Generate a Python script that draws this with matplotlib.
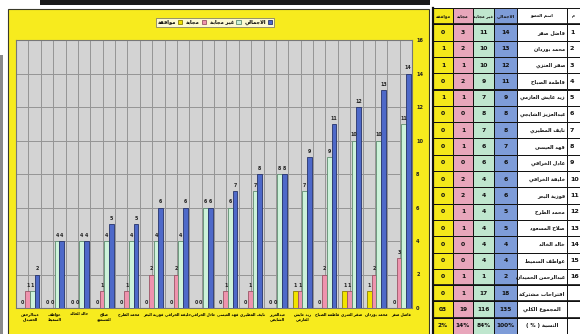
import matplotlib
matplotlib.use("Agg")
import matplotlib.pyplot as plt
from matplotlib.patches import Rectangle
import numpy as np

# ---------------- data ----------------
names = ["فاضل صفر", "محمد بوردان", "صقر العنزي", "فاطمة الصباح", "زيد عايش العازمي",
         "عبدالعزيز الشايجي", "نايف المطيري", "فهد العيسى", "عادل الخرافي", "خليفة الخرافي",
         "فوزية البحر", "محمد الطرح", "صلاح المسعود", "خالد الخالد", "عواطف السميط",
         "عبدالرحمن الحميدان"]
chart_names = ["فاضل صفر", "محمد بوردان", "صقر العنزي", "فاطمة الصباح", "زيد عايش\nالعازمي",
               "عبدالعزيز\nالشايجي", "نايف المطيري", "فهد العيسى", "عادل الخرافي", "خليفة الخرافي",
               "فوزية البحر", "محمد الطرح", "صلاح\nالمسعود", "خالد الخالد", "عواطف\nالسميط",
               "عبدالرحمن\nالحميدان"]
total = [14, 13, 12, 11, 9, 8, 8, 7, 6, 6, 6, 5, 5, 4, 4, 2]
not_answered = [11, 10, 10, 9, 7, 8, 7, 6, 6, 4, 4, 4, 4, 4, 4, 1]
answered = [3, 2, 1, 2, 1, 0, 1, 1, 0, 2, 2, 1, 1, 0, 0, 1]
approved = [0, 1, 1, 0, 1, 0, 0, 0, 0, 0, 0, 0, 0, 0, 0, 0]
series_labels = ["موافقة", "مجابة", "غير مجابة", "الاجمالي"]
extra_rows = ["اقتراحات مشتركة", "المجموع الكلي", "النسبة ( % )"]
extra_vals = [["0", "1", "17", "18"], ["03", "19", "116", "135"], ["2%", "14%", "84%", "100%"]]
table_header = ["موافقة", "مجابة", "غير مجابة", "الاجمالي", "اسم العضو", "م"]
yticks = [0, 2, 4, 6, 8, 10, 12, 14, 16]

# ---------------- simple Arabic shaping ----------------
FORMS = {
    'ء': (0xFE80, None, None, None), 'آ': (0xFE81, 0xFE82, None, None),
    'أ': (0xFE83, 0xFE84, None, None), 'ؤ': (0xFE85, 0xFE86, None, None),
    'إ': (0xFE87, 0xFE88, None, None), 'ئ': (0xFE89, 0xFE8A, 0xFE8B, 0xFE8C),
    'ا': (0xFE8D, 0xFE8E, None, None), 'ب': (0xFE8F, 0xFE90, 0xFE91, 0xFE92),
    'ة': (0xFE93, 0xFE94, None, None), 'ت': (0xFE95, 0xFE96, 0xFE97, 0xFE98),
    'ث': (0xFE99, 0xFE9A, 0xFE9B, 0xFE9C), 'ج': (0xFE9D, 0xFE9E, 0xFE9F, 0xFEA0),
    'ح': (0xFEA1, 0xFEA2, 0xFEA3, 0xFEA4), 'خ': (0xFEA5, 0xFEA6, 0xFEA7, 0xFEA8),
    'د': (0xFEA9, 0xFEAA, None, None), 'ذ': (0xFEAB, 0xFEAC, None, None),
    'ر': (0xFEAD, 0xFEAE, None, None), 'ز': (0xFEAF, 0xFEB0, None, None),
    'س': (0xFEB1, 0xFEB2, 0xFEB3, 0xFEB4), 'ش': (0xFEB5, 0xFEB6, 0xFEB7, 0xFEB8),
    'ص': (0xFEB9, 0xFEBA, 0xFEBB, 0xFEBC), 'ض': (0xFEBD, 0xFEBE, 0xFEBF, 0xFEC0),
    'ط': (0xFEC1, 0xFEC2, 0xFEC3, 0xFEC4), 'ظ': (0xFEC5, 0xFEC6, 0xFEC7, 0xFEC8),
    'ع': (0xFEC9, 0xFECA, 0xFECB, 0xFECC), 'غ': (0xFECD, 0xFECE, 0xFECF, 0xFED0),
    'ف': (0xFED1, 0xFED2, 0xFED3, 0xFED4), 'ق': (0xFED5, 0xFED6, 0xFED7, 0xFED8),
    'ك': (0xFED9, 0xFEDA, 0xFEDB, 0xFEDC), 'ل': (0xFEDD, 0xFEDE, 0xFEDF, 0xFEE0),
    'م': (0xFEE1, 0xFEE2, 0xFEE3, 0xFEE4), 'ن': (0xFEE5, 0xFEE6, 0xFEE7, 0xFEE8),
    'ه': (0xFEE9, 0xFEEA, 0xFEEB, 0xFEEC), 'و': (0xFEED, 0xFEEE, None, None),
    'ى': (0xFEEF, 0xFEF0, None, None), 'ي': (0xFEF1, 0xFEF2, 0xFEF3, 0xFEF4),
}
LAM_ALEF = {'ا': (0xFEFB, 0xFEFC), 'أ': (0xFEF7, 0xFEF8), 'إ': (0xFEF9, 0xFEFA), 'آ': (0xFEF5, 0xFEF6)}


def shape_word(w):
    chars = []
    i = 0
    while i < len(w):
        if w[i] == 'ل' and i + 1 < len(w) and w[i + 1] in LAM_ALEF:
            chars.append(('LA', w[i + 1]))
            i += 2
        else:
            chars.append(('C', w[i]))
            i += 1

    def joins_next(c):
        if c[0] == 'LA':
            return False
        f = FORMS.get(c[1])
        return f is not None and f[2] is not None

    def is_letter(c):
        return c[0] == 'LA' or c[1] in FORMS

    out = []
    for k, c in enumerate(chars):
        prev_j = k > 0 and joins_next(chars[k - 1]) and is_letter(c) and c[1] != 'ء'
        next_j = k + 1 < len(chars) and joins_next(c) and is_letter(chars[k + 1]) and chars[k + 1][1] != 'ء'
        if c[0] == 'LA':
            iso, fin = LAM_ALEF[c[1]]
            out.append(chr(fin if prev_j else iso))
            continue
        f = FORMS.get(c[1])
        if f is None:
            out.append(c[1])
            continue
        iso, fin, ini, med = f
        if prev_j and next_j and med:
            out.append(chr(med))
        elif prev_j and fin:
            out.append(chr(fin))
        elif next_j and ini:
            out.append(chr(ini))
        else:
            out.append(chr(iso))
    return ''.join(out)


def is_arabic(tok):
    return any('\u0600' <= ch <= '\u06FF' for ch in tok)


MIRROR = {'(': ')', ')': '('}


def ar(text):
    lines = []
    for line in text.split('\n'):
        toks = line.split(' ')
        vis = []
        for t in reversed(toks):
            if is_arabic(t):
                vis.append(shape_word(t)[::-1])
            else:
                vis.append(''.join(MIRROR.get(ch, ch) for ch in t))
        lines.append(' '.join(vis))
    return '\n'.join(lines)


# ---------------- figure ----------------
plt.rcParams['font.family'] = ['DejaVu Sans']
W, H = 580, 334
fig = plt.figure(figsize=(5.8, 3.34), dpi=100)
fig.patch.set_facecolor('white')

bg = fig.add_axes([0, 0, 1, 1], zorder=0)
bg.set_xlim(0, W)
bg.set_ylim(H, 0)
bg.axis('off')
bg.add_patch(Rectangle((8, 9), 421, 330, facecolor='#F7EB1E', edgecolor='#3a3a2a', lw=0.8))
bg.add_patch(Rectangle((40, 0), 390, 4.5, facecolor='#1a1a1a', edgecolor='none'))
bg.add_patch(Rectangle((0, 55), 2.5, 280, facecolor='#8a8a8a', edgecolor='none'))

# ---------------- chart ----------------
ax = fig.add_axes([16 / W, 1 - 308 / H, (412 - 16) / W, (308 - 40) / H], zorder=2)
ax.set_facecolor('#D3D3D3')
n = len(total)
x = np.arange(n)
pos = (n - 1) - x          # first member drawn on the right
bw = 0.19
shift = 0.065
bar_series = [approved, answered, not_answered, total]
bar_colors = ['#F2E300', '#EE93AE', '#CDF2DA', '#4E69C9']
edge_colors = ['#8a8000', '#9a5566', '#5f8c70', '#26336b']
for j, (vals, col, ec) in enumerate(zip(bar_series, bar_colors, edge_colors)):
    xp = pos + shift + (j - 1.5) * bw
    ax.bar(xp, vals, width=bw, color=col, edgecolor=ec, linewidth=0.6, zorder=3,
           label=ar(series_labels[j]))
    for xi, v in zip(xp, vals):
        ax.text(xi, v + 0.18, str(v), ha='center', va='bottom', fontsize=3.4,
                fontweight='bold', color='#222222', zorder=4)

ax.set_xlim(-0.5, n - 0.5)
ax.set_ylim(0, 16)
ax.set_xticks(np.arange(-0.5, n, 0.5), minor=True)
ax.grid(True, which='minor', axis='x', color='#959595', lw=0.7, zorder=1)
ax.set_yticks(yticks)
ax.grid(True, which='major', axis='y', color='#959595', lw=0.7, zorder=1)
ax.set_axisbelow(True)
ax.yaxis.tick_right()
ax.tick_params(axis='y', labelsize=3.6, length=0, pad=3, labelcolor='#222222')
ax.set_yticklabels([str(t) for t in yticks], fontweight='bold')
ax.set_xticks(pos + shift)
ax.set_xticklabels([ar(s) for s in chart_names], fontsize=2.6, fontweight='bold',
                   linespacing=1.25, va='top')
ax.tick_params(axis='x', which='both', length=0, pad=3)
for sp in ax.spines.values():
    sp.set_color('#777777')
    sp.set_linewidth(0.8)

handles, labels = ax.get_legend_handles_labels()
leg = fig.legend(handles, labels, loc='center', bbox_to_anchor=(215 / W, 1 - 22.5 / H),
                 ncol=4, markerfirst=False, frameon=True, fancybox=False,
                 handlelength=0.9, handleheight=0.9, handletextpad=0.35, columnspacing=0.7,
                 borderpad=0.35, prop={'weight': 'bold', 'size': 3.7})
leg.get_frame().set_edgecolor('#666666')
leg.get_frame().set_linewidth(0.6)

# ---------------- table ----------------
tb = fig.add_axes([0, 0, 1, 1], zorder=3)
tb.set_xlim(0, W)
tb.set_ylim(H, 0)
tb.axis('off')
tb.patch.set_alpha(0)
col_x = [433, 453, 473, 494, 517, 567, 590]
col_colors = ['#F4E81A', '#E8A6BB', '#BFE6CE', '#7E9CD8', 'white', 'white']
top = 8
rh = 16.3
n_rows = 1 + n + len(extra_rows)
for r in range(n_rows):
    y0 = top + r * rh
    for c in range(6):
        fc = col_colors[c]
        tb.add_patch(Rectangle((col_x[c], y0), col_x[c + 1] - col_x[c], rh,
                               facecolor=fc, edgecolor='#111111', lw=0.7))
    yc = y0 + rh / 2
    if r == 0:
        for c, h in enumerate(table_header):
            tb.text((col_x[c] + col_x[c + 1]) / 2 if c < 5 else 573, yc, ar(h),
                    ha='center', va='center', fontsize=3.1, fontweight='bold', color='#111111')
    elif r <= n:
        i = r - 1
        vals = [approved[i], answered[i], not_answered[i], total[i]]
        for c, v in enumerate(vals):
            tb.text((col_x[c] + col_x[c + 1]) / 2, yc, str(v), ha='center', va='center',
                    fontsize=4.4, fontweight='bold', color='#111111')
        tb.text(col_x[5] - 2, yc, ar(names[i]), ha='right', va='center', fontsize=3.6,
                fontweight='bold', color='#111111')
        tb.text(570, yc, str(r), ha='left', va='center', fontsize=4.6, fontweight='bold',
                color='#111111')
    else:
        k = r - n - 1
        for c, v in enumerate(extra_vals[k]):
            tb.text((col_x[c] + col_x[c + 1]) / 2, yc, v, ha='center', va='center',
                    fontsize=4.2, fontweight='bold', color='#111111')
        tb.text((col_x[4] + col_x[5]) / 2, yc, ar(extra_rows[k]), ha='center', va='center',
                fontsize=3.8, fontweight='bold', color='#111111')
tb.plot([433, 433], [top, H], color='#111111', lw=1.6)
for r in [1, n + 1, n + 2, n + 3]:
    yy = top + r * rh
    tb.plot([433, 590], [yy, yy], color='#111111', lw=1.2)

fig.savefig('out.png', dpi=100, facecolor='white')
